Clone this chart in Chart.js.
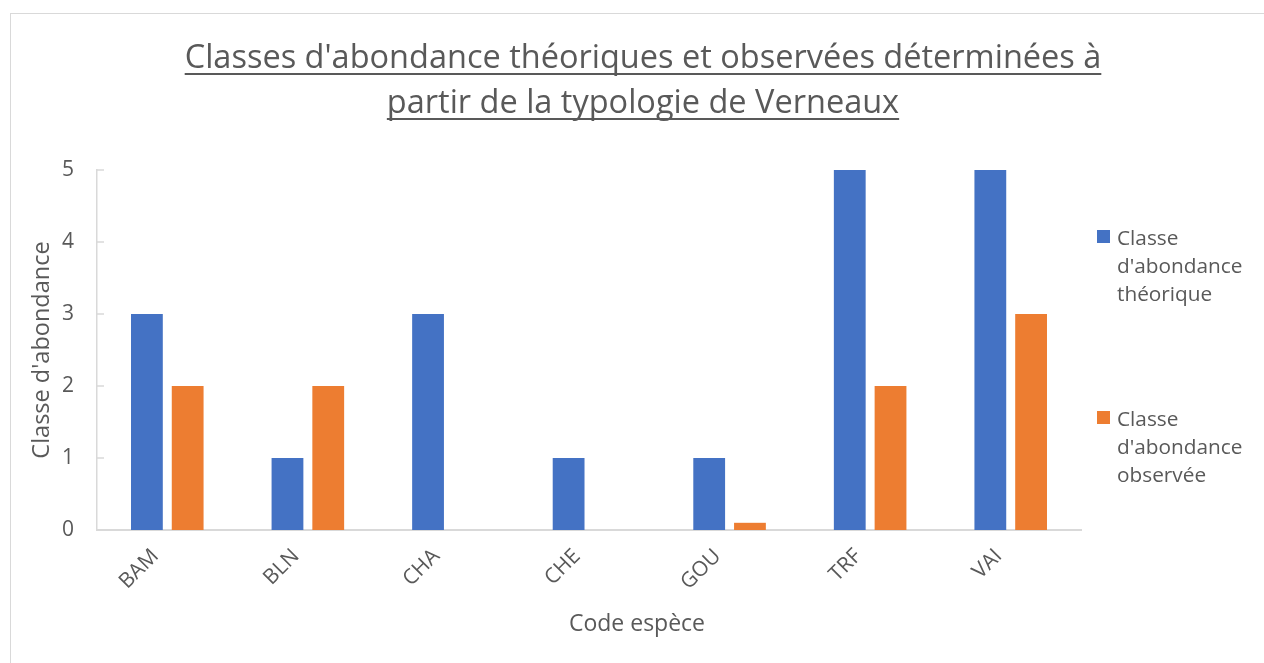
<!DOCTYPE html>
<html>
<head>
<meta charset="utf-8">
<script src="https://cdn.jsdelivr.net/npm/chart.js@4/dist/chart.umd.min.js"></script>
<style>
    html, body { margin: 0; padding: 0; background: #fff; overflow: hidden; }
    #wrap { position: relative; width: 1264px; height: 663px; }
    #frame { position: absolute; left: 10px; top: 13px; width: 1300px; height: 700px; border: 1.5px solid #d9d9d9; box-sizing: border-box; }
    #chart { position: absolute; left: 0; top: 0; }
    #title { position: absolute; left: 143px; top: 33px; width: 1000px; text-align: center;
             font-family: 'Open Sans', sans-serif; font-size: 32.5px; line-height: 45px; color: #595959;
             text-decoration: underline; text-decoration-thickness: 2px; text-underline-offset: 5px;
             text-decoration-skip-ink: none; }
    #xtitle { position: absolute; left: 537px; top: 606px; width: 200px; text-align: center;
              font-family: 'Open Sans', sans-serif; font-size: 23px; line-height: 32px; color: #595959; }
    #legend { position: absolute; left: 1097px; top: 0; font-family: 'Open Sans', sans-serif; font-size: 20.8px; line-height: 28px; color: #595959; }
    .item { position: absolute; left: 0; width: 165px; }
    .box { position: absolute; left: 0; top: 7px; width: 13px; height: 13px; }
    .txt { position: absolute; left: 20px; top: 0; white-space: nowrap; }
</style>
</head>
<body>
<div id="wrap">
    <div id="frame"></div>
    <canvas id="chart" width="1264" height="663"></canvas>
    <div id="title">Classes d'abondance théoriques et observées déterminées à<br>partir de la typologie de Verneaux</div>
    <div id="xtitle">Code espèce</div>
    <div id="legend"></div>
</div>
<script>
// Data
const categories = ['BAM', 'BLN', 'CHA', 'CHE', 'GOU', 'TRF', 'VAI'];
const theorique = [3, 1, 3, 1, 1, 5, 5];
const observee = [2, 2, 0, 0, 0.1, 2, 3];
const yTicks = [0, 1, 2, 3, 4, 5];
const seriesLabels = [['Classe', "d'abondance", 'théorique'], ['Classe', "d'abondance", 'observée']];

const textColor = '#595959';
const axisColor = '#d9d9d9';

// Inner tick marks on the y axis (Excel style)
const innerTicks = {
    id: 'innerTicks',
    afterDraw(chart) {
        const ctx = chart.ctx;
        const y = chart.scales.y;
        const left = chart.chartArea.left;
        ctx.save();
        ctx.strokeStyle = axisColor;
        ctx.lineWidth = 1.5;
        y.ticks.forEach((tk, i) => {
            const py = y.getPixelForTick(i);
            ctx.beginPath();
            ctx.moveTo(left, py);
            ctx.lineTo(left + 7, py);
            ctx.stroke();
        });
        ctx.restore();
    }
};

const chart = new Chart(document.getElementById('chart'), {
    type: 'bar',
    data: {
        labels: categories,
        datasets: [
            { label: seriesLabels[0].join(' '), data: theorique, backgroundColor: '#4472C4',
              categoryPercentage: 0.58, barPercentage: 0.78 },
            { label: seriesLabels[1].join(' '), data: observee, backgroundColor: '#ED7D31',
              categoryPercentage: 0.58, barPercentage: 0.78 }
        ]
    },
    options: {
        responsive: false,
        animation: false,
        layout: { padding: { left: 0, right: 183, top: 170, bottom: 0 } },
        plugins: {
            legend: { display: false },
            title: { display: false },
            tooltip: { enabled: false }
        },
        scales: {
            x: {
                grid: { display: false, drawTicks: false },
                border: { display: true, color: axisColor, width: 2 },
                ticks: {
                    color: textColor, padding: 14, minRotation: 45, maxRotation: 45, labelOffset: -12,
                    font: { family: "'Open Sans', sans-serif", size: 21 }
                },
                afterFit(scale) { scale.height = 133; }
            },
            y: {
                min: 0, max: 5,
                afterBuildTicks(scale) { scale.ticks = yTicks.map(v => ({ value: v })); },
                grid: { display: false, drawTicks: false },
                border: { display: true, color: axisColor, width: 1.5 },
                ticks: {
                    color: textColor, padding: 23,
                    font: { family: "'Open Sans', sans-serif", size: 21 }
                },
                title: {
                    display: true, text: "Classe d'abondance", color: textColor,
                    font: { family: "'Open Sans', sans-serif", size: 23.5 },
                    padding: { top: 28, bottom: 0 }
                },
                afterFit(scale) { scale.width = 97; }
            }
        }
    },
    plugins: [innerTicks]
});

// Legend built from the datasets
const legendTops = [223, 404];
const legend = document.getElementById('legend');
chart.data.datasets.forEach((ds, i) => {
    const item = document.createElement('div');
    item.className = 'item';
    item.style.top = legendTops[i] + 'px';
    item.innerHTML = '<div class="box" style="background:' + ds.backgroundColor + '"></div>' +
        '<div class="txt">' + seriesLabels[i].join('<br>') + '</div>';
    legend.appendChild(item);
});
</script>
</body>
</html>
